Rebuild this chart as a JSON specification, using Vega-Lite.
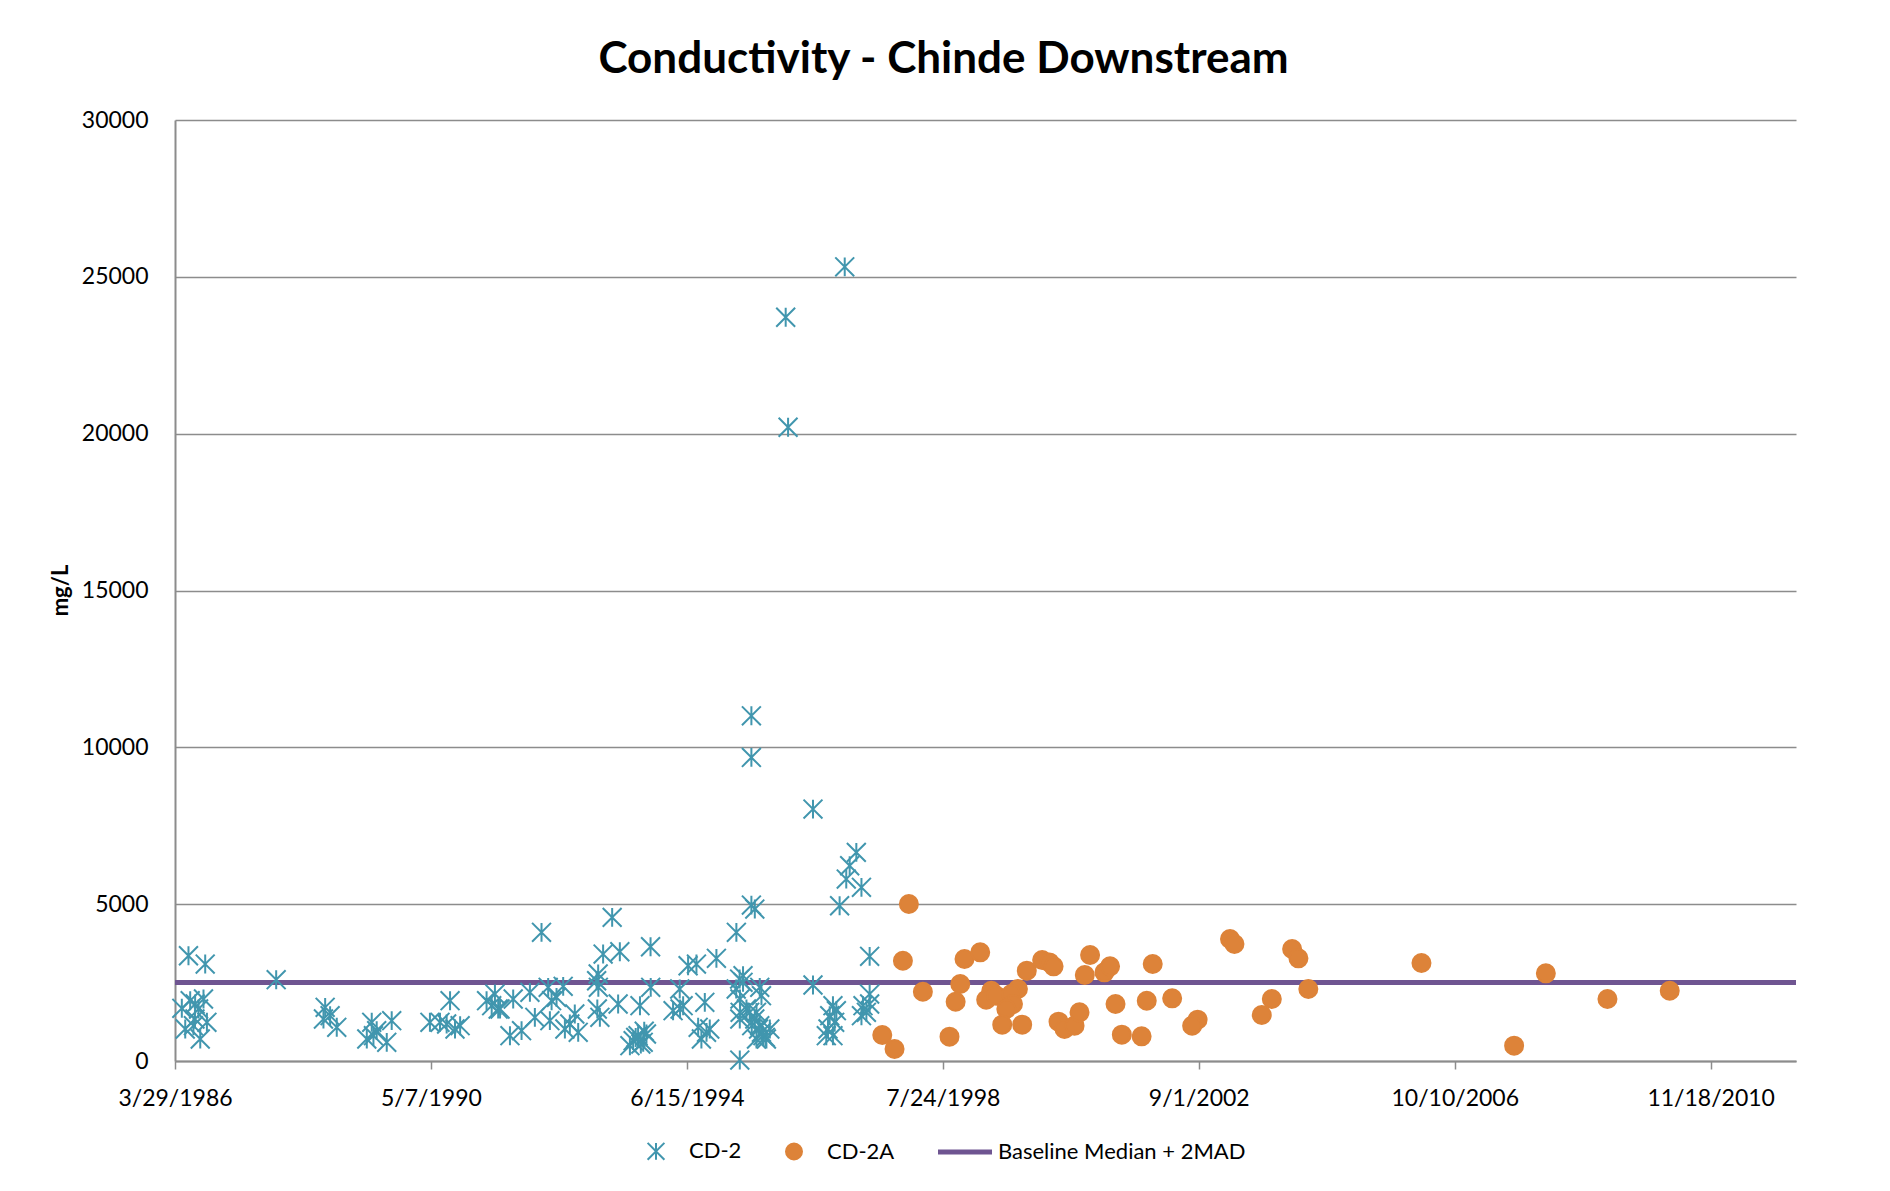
{
 "$schema": "https://vega.github.io/schema/vega-lite/v6.json",
 "width": 1621,
 "height": 941,
 "autosize": {"type": "none"},
 "padding": {"left": 175, "top": 120, "right": 94, "bottom": 130},
 "background": "white",
 "title": {"text": "Conductivity - Chinde Downstream", "font": "Lato", "fontSize": 44, "fontWeight": "bold", "color": "black", "anchor": "middle", "dx": -42, "baseline": "alphabetic", "offset": -8},
 "config": {"view": {"stroke": null}},
 "datasets": {
  "baseline": [
   {"date": "1986-03-29", "value": 2500, "series": "Baseline Median + 2MAD"},
   {"date": "2012-04-01", "value": 2500, "series": "Baseline Median + 2MAD"}
  ],
  "samples": [
   {"date": "1986-06-16", "value": 3356, "series": "CD-2"},
   {"date": "1986-09-22", "value": 3091, "series": "CD-2"},
   {"date": "1987-11-12", "value": 2592, "series": "CD-2"},
   {"date": "1986-05-08", "value": 1680, "series": "CD-2"},
   {"date": "1986-06-26", "value": 1922, "series": "CD-2"},
   {"date": "1986-07-25", "value": 1817, "series": "CD-2"},
   {"date": "1986-09-12", "value": 1976, "series": "CD-2"},
   {"date": "1986-08-14", "value": 1657, "series": "CD-2"},
   {"date": "1986-05-28", "value": 1020, "series": "CD-2"},
   {"date": "1986-07-24", "value": 1338, "series": "CD-2"},
   {"date": "1986-10-02", "value": 1233, "series": "CD-2"},
   {"date": "1986-08-24", "value": 701, "series": "CD-2"},
   {"date": "1986-07-15", "value": 1125, "series": "CD-2"},
   {"date": "1988-08-25", "value": 1711, "series": "CD-2"},
   {"date": "1988-09-23", "value": 1444, "series": "CD-2"},
   {"date": "1988-08-15", "value": 1338, "series": "CD-2"},
   {"date": "1988-11-01", "value": 1074, "series": "CD-2"},
   {"date": "1989-05-25", "value": 1233, "series": "CD-2"},
   {"date": "1989-04-26", "value": 701, "series": "CD-2"},
   {"date": "1989-06-23", "value": 967, "series": "CD-2"},
   {"date": "1989-08-21", "value": 595, "series": "CD-2"},
   {"date": "1989-09-19", "value": 1286, "series": "CD-2"},
   {"date": "1989-06-04", "value": 807, "series": "CD-2"},
   {"date": "1990-05-01", "value": 1233, "series": "CD-2"},
   {"date": "1990-06-29", "value": 1233, "series": "CD-2"},
   {"date": "1990-08-27", "value": 1922, "series": "CD-2"},
   {"date": "1990-10-25", "value": 1125, "series": "CD-2"},
   {"date": "1990-09-25", "value": 1020, "series": "CD-2"},
   {"date": "1990-08-07", "value": 1180, "series": "CD-2"},
   {"date": "1991-03-29", "value": 1922, "series": "CD-2"},
   {"date": "1991-05-17", "value": 2135, "series": "CD-2"},
   {"date": "1991-06-05", "value": 1657, "series": "CD-2"},
   {"date": "1991-04-28", "value": 1763, "series": "CD-2"},
   {"date": "1992-02-14", "value": 4101, "series": "CD-2"},
   {"date": "1993-04-03", "value": 4579, "series": "CD-2"},
   {"date": "1993-02-09", "value": 3410, "series": "CD-2"},
   {"date": "1993-05-18", "value": 3484, "series": "CD-2"},
   {"date": "1993-11-14", "value": 3643, "series": "CD-2"},
   {"date": "1993-01-11", "value": 2773, "series": "CD-2"},
   {"date": "1993-01-02", "value": 2559, "series": "CD-2"},
   {"date": "1994-06-22", "value": 3037, "series": "CD-2"},
   {"date": "1994-08-10", "value": 3091, "series": "CD-2"},
   {"date": "1994-12-05", "value": 3273, "series": "CD-2"},
   {"date": "1995-04-01", "value": 4101, "series": "CD-2"},
   {"date": "1995-07-18", "value": 4844, "series": "CD-2"},
   {"date": "1995-04-21", "value": 30, "series": "CD-2"},
   {"date": "1991-09-01", "value": 1976, "series": "CD-2"},
   {"date": "1991-06-16", "value": 1657, "series": "CD-2"},
   {"date": "1991-12-08", "value": 2189, "series": "CD-2"},
   {"date": "1992-03-24", "value": 2348, "series": "CD-2"},
   {"date": "1992-06-20", "value": 2380, "series": "CD-2"},
   {"date": "1992-05-12", "value": 2030, "series": "CD-2"},
   {"date": "1992-04-13", "value": 1922, "series": "CD-2"},
   {"date": "1992-01-06", "value": 1392, "series": "CD-2"},
   {"date": "1992-04-03", "value": 1286, "series": "CD-2"},
   {"date": "1991-08-13", "value": 807, "series": "CD-2"},
   {"date": "1991-10-20", "value": 967, "series": "CD-2"},
   {"date": "1992-08-27", "value": 1498, "series": "CD-2"},
   {"date": "1992-07-29", "value": 1180, "series": "CD-2"},
   {"date": "1992-09-16", "value": 914, "series": "CD-2"},
   {"date": "1992-06-30", "value": 1020, "series": "CD-2"},
   {"date": "1993-01-12", "value": 2348, "series": "CD-2"},
   {"date": "1993-01-06", "value": 1657, "series": "CD-2"},
   {"date": "1993-01-21", "value": 1392, "series": "CD-2"},
   {"date": "1993-05-08", "value": 1817, "series": "CD-2"},
   {"date": "1993-09-13", "value": 1763, "series": "CD-2"},
   {"date": "1993-11-15", "value": 2348, "series": "CD-2"},
   {"date": "1993-09-02", "value": 807, "series": "CD-2"},
   {"date": "1993-08-04", "value": 648, "series": "CD-2"},
   {"date": "1993-10-02", "value": 595, "series": "CD-2"},
   {"date": "1993-10-21", "value": 860, "series": "CD-2"},
   {"date": "1993-07-16", "value": 488, "series": "CD-2"},
   {"date": "1993-09-18", "value": 540, "series": "CD-2"},
   {"date": "1993-08-19", "value": 750, "series": "CD-2"},
   {"date": "1993-10-08", "value": 950, "series": "CD-2"},
   {"date": "1994-05-04", "value": 2295, "series": "CD-2"},
   {"date": "1994-05-06", "value": 1657, "series": "CD-2"},
   {"date": "1994-05-24", "value": 1763, "series": "CD-2"},
   {"date": "1994-03-26", "value": 1604, "series": "CD-2"},
   {"date": "1994-09-28", "value": 1870, "series": "CD-2"},
   {"date": "1994-08-20", "value": 1074, "series": "CD-2"},
   {"date": "1994-10-08", "value": 914, "series": "CD-2"},
   {"date": "1994-09-08", "value": 701, "series": "CD-2"},
   {"date": "1994-10-27", "value": 1020, "series": "CD-2"},
   {"date": "1995-04-20", "value": 2613, "series": "CD-2"},
   {"date": "1995-05-10", "value": 2508, "series": "CD-2"},
   {"date": "1995-03-31", "value": 2295, "series": "CD-2"},
   {"date": "1995-04-22", "value": 1976, "series": "CD-2"},
   {"date": "1995-08-16", "value": 2348, "series": "CD-2"},
   {"date": "1995-08-26", "value": 2082, "series": "CD-2"},
   {"date": "1995-04-23", "value": 1551, "series": "CD-2"},
   {"date": "1995-05-30", "value": 1657, "series": "CD-2"},
   {"date": "1995-07-28", "value": 1551, "series": "CD-2"},
   {"date": "1995-08-16", "value": 1125, "series": "CD-2"},
   {"date": "1995-09-04", "value": 807, "series": "CD-2"},
   {"date": "1995-09-24", "value": 701, "series": "CD-2"},
   {"date": "1995-07-28", "value": 701, "series": "CD-2"},
   {"date": "1995-10-14", "value": 1020, "series": "CD-2"},
   {"date": "1995-06-18", "value": 1551, "series": "CD-2"},
   {"date": "1995-04-21", "value": 1338, "series": "CD-2"},
   {"date": "1995-07-18", "value": 1338, "series": "CD-2"},
   {"date": "1995-08-26", "value": 914, "series": "CD-2"},
   {"date": "1995-09-18", "value": 755, "series": "CD-2"},
   {"date": "1995-08-09", "value": 1020, "series": "CD-2"},
   {"date": "1995-06-30", "value": 1125, "series": "CD-2"},
   {"date": "1995-05-10", "value": 2719, "series": "CD-2"},
   {"date": "1996-11-26", "value": 4950, "series": "CD-2"},
   {"date": "1997-05-21", "value": 3336, "series": "CD-2"},
   {"date": "1996-06-23", "value": 2422, "series": "CD-2"},
   {"date": "1996-10-18", "value": 1763, "series": "CD-2"},
   {"date": "1996-09-29", "value": 1444, "series": "CD-2"},
   {"date": "1996-11-07", "value": 1604, "series": "CD-2"},
   {"date": "1996-09-19", "value": 1020, "series": "CD-2"},
   {"date": "1996-10-18", "value": 807, "series": "CD-2"},
   {"date": "1996-09-09", "value": 807, "series": "CD-2"},
   {"date": "1996-10-28", "value": 1233, "series": "CD-2"},
   {"date": "1997-04-12", "value": 1763, "series": "CD-2"},
   {"date": "1997-05-21", "value": 2135, "series": "CD-2"},
   {"date": "1997-05-02", "value": 1551, "series": "CD-2"},
   {"date": "1997-04-03", "value": 1444, "series": "CD-2"},
   {"date": "1997-05-21", "value": 1817, "series": "CD-2"},
   {"date": "1995-06-28", "value": 11005, "series": "CD-2"},
   {"date": "1995-06-28", "value": 9679, "series": "CD-2"},
   {"date": "1996-06-23", "value": 8031, "series": "CD-2"},
   {"date": "1997-03-04", "value": 6651, "series": "CD-2"},
   {"date": "1997-01-24", "value": 6225, "series": "CD-2"},
   {"date": "1997-01-04", "value": 5800, "series": "CD-2"},
   {"date": "1997-04-03", "value": 5536, "series": "CD-2"},
   {"date": "1995-06-28", "value": 4971, "series": "CD-2"},
   {"date": "1996-01-15", "value": 23711, "series": "CD-2"},
   {"date": "1996-01-29", "value": 20205, "series": "CD-2"},
   {"date": "1996-12-26", "value": 25318, "series": "CD-2"},
   {"date": "1998-01-06", "value": 5004, "series": "CD-2A"},
   {"date": "1997-12-02", "value": 3197, "series": "CD-2A"},
   {"date": "1998-03-29", "value": 2209, "series": "CD-2A"},
   {"date": "1997-08-03", "value": 829, "series": "CD-2A"},
   {"date": "1997-10-14", "value": 382, "series": "CD-2A"},
   {"date": "1998-09-01", "value": 776, "series": "CD-2A"},
   {"date": "1998-11-28", "value": 3251, "series": "CD-2A"},
   {"date": "1999-02-28", "value": 3464, "series": "CD-2A"},
   {"date": "1998-11-03", "value": 2454, "series": "CD-2A"},
   {"date": "1998-10-07", "value": 1890, "series": "CD-2A"},
   {"date": "1999-05-04", "value": 2241, "series": "CD-2A"},
   {"date": "1999-04-04", "value": 1954, "series": "CD-2A"},
   {"date": "1999-06-02", "value": 2082, "series": "CD-2A"},
   {"date": "1999-10-07", "value": 2295, "series": "CD-2A"},
   {"date": "1999-08-29", "value": 2135, "series": "CD-2A"},
   {"date": "1999-09-08", "value": 1817, "series": "CD-2A"},
   {"date": "1999-07-31", "value": 1657, "series": "CD-2A"},
   {"date": "1999-07-07", "value": 1158, "series": "CD-2A"},
   {"date": "1999-11-01", "value": 1158, "series": "CD-2A"},
   {"date": "1999-11-28", "value": 2879, "series": "CD-2A"},
   {"date": "2000-02-26", "value": 3219, "series": "CD-2A"},
   {"date": "2000-04-09", "value": 3144, "series": "CD-2A"},
   {"date": "2000-05-03", "value": 3018, "series": "CD-2A"},
   {"date": "2000-06-01", "value": 1254, "series": "CD-2A"},
   {"date": "2000-07-06", "value": 1020, "series": "CD-2A"},
   {"date": "2000-09-03", "value": 1125, "series": "CD-2A"},
   {"date": "2000-10-02", "value": 1551, "series": "CD-2A"},
   {"date": "2000-11-02", "value": 2741, "series": "CD-2A"},
   {"date": "2000-12-03", "value": 3378, "series": "CD-2A"},
   {"date": "2001-02-25", "value": 2827, "series": "CD-2A"},
   {"date": "2001-03-30", "value": 3018, "series": "CD-2A"},
   {"date": "2001-05-01", "value": 1817, "series": "CD-2A"},
   {"date": "2001-06-07", "value": 839, "series": "CD-2A"},
   {"date": "2001-10-01", "value": 786, "series": "CD-2A"},
   {"date": "2001-10-31", "value": 1922, "series": "CD-2A"},
   {"date": "2001-12-05", "value": 3091, "series": "CD-2A"},
   {"date": "2002-03-29", "value": 1998, "series": "CD-2A"},
   {"date": "2002-08-25", "value": 1317, "series": "CD-2A"},
   {"date": "2002-07-24", "value": 1125, "series": "CD-2A"},
   {"date": "2003-03-03", "value": 3888, "series": "CD-2A"},
   {"date": "2003-03-29", "value": 3729, "series": "CD-2A"},
   {"date": "2003-09-05", "value": 1466, "series": "CD-2A"},
   {"date": "2003-11-03", "value": 1976, "series": "CD-2A"},
   {"date": "2004-03-01", "value": 3569, "series": "CD-2A"},
   {"date": "2004-04-07", "value": 3273, "series": "CD-2A"},
   {"date": "2004-06-04", "value": 2295, "series": "CD-2A"},
   {"date": "2006-03-29", "value": 3123, "series": "CD-2A"},
   {"date": "2007-09-23", "value": 488, "series": "CD-2A"},
   {"date": "2008-03-27", "value": 2795, "series": "CD-2A"},
   {"date": "2009-03-23", "value": 1976, "series": "CD-2A"},
   {"date": "2010-03-23", "value": 2241, "series": "CD-2A"}
  ]
 },
 "encoding": {
  "x": {
   "field": "date", "type": "temporal",
   "scale": {"type": "utc", "nice": false, "domain": [{"year": 1986, "month": 3, "date": 29, "utc": true}, {"year": 2012, "month": 4, "date": 1, "utc": true}]},
   "axis": {
    "title": null,
    "values": [
     {"year": 1986, "month": 3, "date": 29, "utc": true},
     {"year": 1990, "month": 5, "date": 7, "utc": true},
     {"year": 1994, "month": 6, "date": 15, "utc": true},
     {"year": 1998, "month": 7, "date": 24, "utc": true},
     {"year": 2002, "month": 9, "date": 1, "utc": true},
     {"year": 2006, "month": 10, "date": 10, "utc": true},
     {"year": 2010, "month": 11, "date": 18, "utc": true}
    ],
    "format": "%-m/%-d/%Y",
    "labelFont": "Lato", "labelFontSize": 23, "labelColor": "black",
    "labelOverlap": false, "labelFlush": false,
    "tickSize": 8, "tickColor": "#8c8c8c", "tickWidth": 1.5,
    "domainColor": "#8c8c8c", "domainWidth": 2,
    "grid": false, "labelPadding": 18
   }
  },
  "y": {
   "field": "value", "type": "quantitative",
   "scale": {"domain": [0, 30000], "nice": false},
   "axis": {
    "values": [0, 5000, 10000, 15000, 20000, 25000, 30000],
    "format": "d",
    "labelFont": "Lato", "labelFontSize": 23, "labelColor": "black",
    "ticks": false, "tickSize": 0, "labelPadding": 27,
    "domainColor": "#8c8c8c", "domainWidth": 2,
    "grid": true, "gridColor": "#8c8c8c", "gridWidth": 1.5,
    "title": "mg/L", "titleFont": "Lato", "titleFontSize": 22, "titleFontWeight": "bold", "titleColor": "black",
    "titleX": -115, "titleY": 470, "titleAngle": -90, "titleBaseline": "middle", "titleAlign": "center"
   }
  }
 },
 "layer": [
  {
   "data": {"name": "baseline"},
   "mark": {"type": "line", "color": "#6F5591", "strokeWidth": 5},
   "encoding": {}
  },
  {
   "data": {"name": "samples"},
   "mark": {"type": "point", "filled": true, "size": 324, "strokeWidth": 2, "opacity": 1},
   "encoding": {
    "color": {
     "field": "series", "type": "nominal",
     "scale": {"domain": ["CD-2", "CD-2A", "Baseline Median + 2MAD"], "range": ["#4196AE", "#DD8339", "#6F5591"]},
     "legend": {"title": null, "orient": "none", "legendX": 470, "legendY": 1020, "direction": "horizontal", "labelFont": "Lato", "labelFontSize": 22, "labelColor": "black", "labelLimit": 500, "symbolSize": 256, "symbolStrokeWidth": 2, "labelOffset": 22, "columnPadding": 40}
    },
    "stroke": {
     "field": "series", "type": "nominal",
     "scale": {"domain": ["CD-2", "CD-2A", "Baseline Median + 2MAD"], "range": ["#4196AE", "#DD8339", "#6F5591"]},
     "legend": {"title": null, "orient": "none", "legendX": 470, "legendY": 1020, "direction": "horizontal", "labelFont": "Lato", "labelFontSize": 22, "labelColor": "black", "labelLimit": 500, "symbolSize": 256, "symbolStrokeWidth": 2, "labelOffset": 22, "columnPadding": 40}
    },
    "shape": {
     "field": "series", "type": "nominal",
     "scale": {"domain": ["CD-2", "CD-2A", "Baseline Median + 2MAD"], "range": ["M0,-1.05L0,1.05M-1.05,-1.05L1.05,1.05M-1.05,1.05L1.05,-1.05", "circle", "M-3.25,-0.19L3.25,-0.19L3.25,0.19L-3.25,0.19Z"]},
     "legend": {"title": null, "orient": "none", "legendX": 470, "legendY": 1020, "direction": "horizontal", "labelFont": "Lato", "labelFontSize": 22, "labelColor": "black", "labelLimit": 500, "symbolSize": 256, "symbolStrokeWidth": 2, "labelOffset": 22, "columnPadding": 40}
    }
   }
  }
 ]
}
